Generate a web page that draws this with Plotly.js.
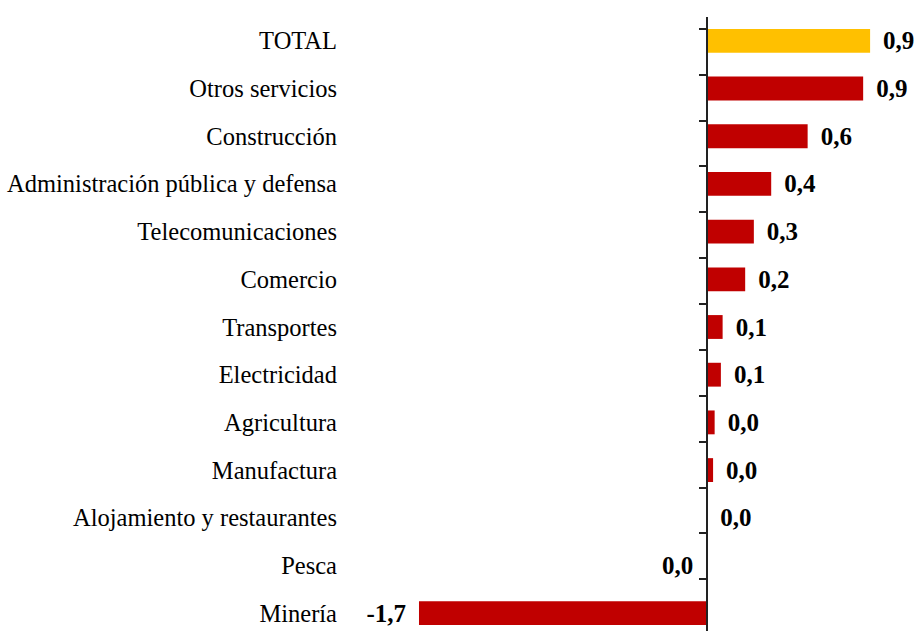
<!DOCTYPE html>
<html>
<head>
<meta charset="utf-8">
<script src="https://cdn.plot.ly/plotly-3.0.1.min.js"></script>
<style>
html, body { margin: 0; padding: 0; overflow: hidden; background: #fff; }
#chart { width: 915px; height: 640px; }
</style>
</head>
<body>
<div id="chart"></div>
<script>
const categories = [
  "TOTAL",
  "Otros servicios",
  "Construcción",
  "Administración pública y defensa",
  "Telecomunicaciones",
  "Comercio",
  "Transportes",
  "Electricidad",
  "Agricultura",
  "Manufactura",
  "Alojamiento y restaurantes",
  "Pesca",
  "Minería"
];
const values = [0.94, 0.90, 0.58, 0.37, 0.27, 0.22, 0.09, 0.08, 0.044, 0.035, 0.002, -0.004, -1.66];

const colorTotal = "#FFC000";
const colorSector = "#C00000";
const colors = categories.map(c => c === "TOTAL" ? colorTotal : colorSector);

function fmt(v) {
  let s = v.toFixed(1);
  if (parseFloat(s) === 0) s = "0.0";
  return s.replace(".", ",");
}
const pad = "\u2009\u2009";
const labels = values.map(v => v < 0 ? fmt(v) + pad : pad + fmt(v));

const xRange = [-2.1268, 1.1988];
const zeroPos = (0 - xRange[0]) / (xRange[1] - xRange[0]);

const traces = [
  {
    type: "bar",
    orientation: "h",
    y: categories,
    x: values,
    marker: { color: colors },
    text: labels,
    textposition: "outside",
    constraintext: "none",
    cliponaxis: false,
    textfont: { family: "Liberation Serif", size: 25, color: "#000", weight: "bold" },
    hoverinfo: "skip",
    yaxis: "y"
  },
  {
    type: "scatter",
    mode: "markers",
    y: categories,
    x: values,
    marker: { opacity: 0 },
    hoverinfo: "skip",
    showlegend: false,
    yaxis: "y2"
  }
];

const layout = {
  width: 915,
  height: 640,
  margin: { l: 338, r: 0, t: 17, b: 3 },
  paper_bgcolor: "#fff",
  plot_bgcolor: "#fff",
  showlegend: false,
  bargap: 0.5,
  xaxis: {
    range: xRange,
    visible: false,
    showgrid: false,
    zeroline: false,
    fixedrange: true
  },
  yaxis: {
    type: "category",
    autorange: "reversed",
    showline: false,
    ticks: "",
    showgrid: false,
    tickfont: { family: "Liberation Serif", size: 24.5, color: "#000" },
    ticklabelstandoff: 0
  },
  yaxis2: {
    type: "category",
    overlaying: "y",
    anchor: "free",
    position: zeroPos,
    side: "left",
    autorange: "reversed",
    showticklabels: false,
    showline: true,
    linecolor: "#222",
    linewidth: 2,
    ticks: "outside",
    tickson: "boundaries",
    ticklen: 7,
    tickwidth: 2,
    tickcolor: "#222",
    showgrid: false
  }
};

Plotly.newPlot("chart", traces, layout, { displayModeBar: false, staticPlot: true });
</script>
</body>
</html>
